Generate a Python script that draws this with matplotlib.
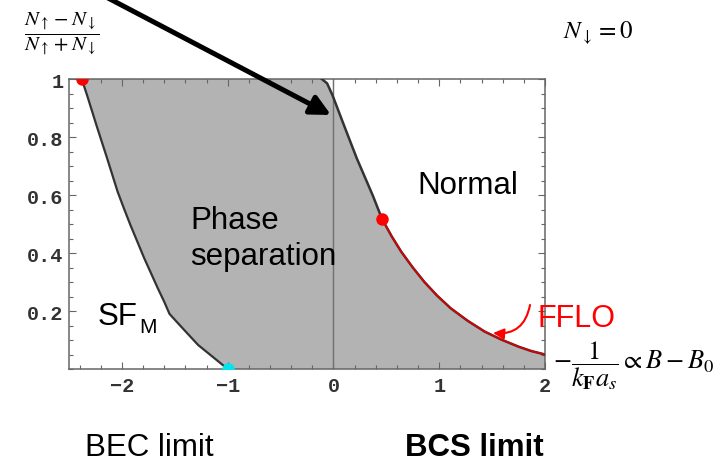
import numpy as np
import matplotlib
matplotlib.use("Agg")
import matplotlib.pyplot as plt
from matplotlib.ticker import MultipleLocator, FixedLocator

plt.rcParams['mathtext.fontset'] = 'stix'
plt.rcParams['font.family'] = 'Liberation Sans'

# boundary between SF_M and the phase-separated region
left_x = [-2.38, -2.33, -2.24, -2.14, -2.04, -1.98, -1.92, -1.79, -1.66, -1.60,
          -1.55, -1.45, -1.28, -1.0]
left_y = [1.0, 0.945, 0.84, 0.727, 0.611, 0.553, 0.497, 0.383, 0.278, 0.232,
          0.19, 0.15, 0.083, 0.0]

# boundary between the phase-separated region and the normal state
right_x = [-0.11, -0.06, -0.01, 0.10, 0.22, 0.37, 0.46, 0.55, 0.64, 0.75, 0.86,
           0.98, 1.11, 1.27, 1.43, 1.59, 1.75, 1.87, 2.0]
right_y = [1.0, 0.985, 0.945, 0.84, 0.727, 0.60, 0.517, 0.458, 0.405, 0.35, 0.30,
           0.253, 0.209, 0.166, 0.129, 0.101, 0.077, 0.062, 0.05]

# special points on the boundaries
red_pts_x = [-2.38, 0.46]
red_pts_y = [1.0, 0.517]
cyan_pt_x = [-1.0]
cyan_pt_y = [0.0]
fflo_start = 0.46

xticks = [-2, -1, 0, 1, 2]
xtick_labels = ['\u22122', '\u22121', '0', '1', '2']
yticks = [0.2, 0.4, 0.6, 0.8, 1.0]
ytick_labels = ['0.2', '0.4', '0.6', '0.8', '1']

W, H = 723, 464
fig = plt.figure(figsize=(W / 100, H / 100), dpi=100)
ax = fig.add_axes([69 / W, 1 - 370 / H, (545 - 69) / W, (370 - 80) / H])


def px(x, y):
    return (x / W, 1 - y / H)


# shaded phase-separation region
poly_x = left_x + [2.0] + right_x[::-1]
poly_y = left_y + [0.0] + right_y[::-1]
ax.fill(poly_x, poly_y, color='#b3b3b3', lw=0, zorder=1)

ax.axvline(0, color='#707070', lw=1.0, zorder=2)
ax.plot(left_x, left_y, color='#333333', lw=1.6, zorder=3)
ax.plot(right_x, right_y, color='#333333', lw=1.8, zorder=3)

fx = [x for x in right_x if x >= fflo_start]
fy = [y for x, y in zip(right_x, right_y) if x >= fflo_start]
ax.plot(fx, fy, color='#dd0000', lw=1.2, zorder=4)

ax.plot(red_pts_x, red_pts_y, 'o', color='#ff0000', ms=9, mec='none', zorder=5)
ax.plot(cyan_pt_x, cyan_pt_y, 'o', color='#00e5f0', ms=9, mec='none', zorder=5)

ax.set_xlim(-2.5, 2.0)
ax.set_ylim(0, 1)

ax.xaxis.set_major_locator(FixedLocator(xticks))
ax.xaxis.set_minor_locator(MultipleLocator(0.2))
ax.yaxis.set_major_locator(FixedLocator(yticks))
ax.yaxis.set_minor_locator(MultipleLocator(0.05))
ax.set_yticklabels(ytick_labels)
ax.set_xticklabels(xtick_labels)

ax.tick_params(which='both', direction='in', top=True, right=True,
               color='#666666', width=0.8)
ax.tick_params(which='major', length=5)
ax.tick_params(which='minor', length=3)
ax.tick_params(axis='x', which='major', pad=5)
ax.tick_params(axis='y', which='major', pad=4)
for lab in ax.get_xticklabels() + ax.get_yticklabels():
    lab.set_family('Liberation Mono')
    lab.set_fontweight('bold')
    lab.set_fontsize(14.5)
    lab.set_color('#333333')
for sp in ax.spines.values():
    sp.set_color('#666666')
    sp.set_linewidth(1.1)

# region labels
fig.text(*px(417, 186), 'Normal', fontsize=22.5, va='center', ha='left')
fig.text(*px(190, 221), 'Phase', fontsize=22.5, va='center', ha='left')
fig.text(*px(190, 257), 'separation', fontsize=22.5, va='center', ha='left')
fig.text(*px(98, 317), 'SF', fontsize=22.5, va='center', ha='left')
fig.text(*px(139, 328), 'M', fontsize=15, va='center', ha='left')
fig.text(*px(537, 319), 'FFLO', fontsize=22, va='center', ha='left', color='#ff0000')

fig.text(*px(62, 34), r'$\dfrac{N_\uparrow - N_\downarrow}{N_\uparrow + N_\downarrow}$',
         fontsize=15, ha='center', va='center')
fig.text(*px(563, 33), r'$N_\downarrow = 0$', fontsize=18, ha='left', va='center')
fig.text(*px(553, 366), r'$-\dfrac{1}{k_\mathbf{F}a_s}\propto B-B_0$',
         fontsize=19, ha='left', va='center')

fig.text(*px(85, 448), 'BEC limit', fontsize=22.5, ha='left', va='center')
fig.text(*px(405, 448), 'BCS limit', fontsize=22.5, ha='left', va='center',
         fontweight='bold')

# pointer onto the upper end of the normal boundary
ax.annotate('', xy=px(331, 116), xytext=px(100, -5.2), xycoords='figure fraction',
            textcoords='figure fraction', annotation_clip=False,
            arrowprops=dict(arrowstyle='-|>', lw=3.6, color='black',
                            mutation_scale=30, shrinkA=0, shrinkB=0))

# curved pointer from the FFLO label
ax.annotate('', xy=px(493, 334), xytext=px(530, 306), xycoords='figure fraction',
            textcoords='figure fraction', annotation_clip=False,
            arrowprops=dict(arrowstyle='-|>', lw=1.5, color='#ff0000',
                            mutation_scale=16, shrinkA=0, shrinkB=0,
                            connectionstyle='arc3,rad=-0.45'))

fig.savefig('out.png', dpi=100)
